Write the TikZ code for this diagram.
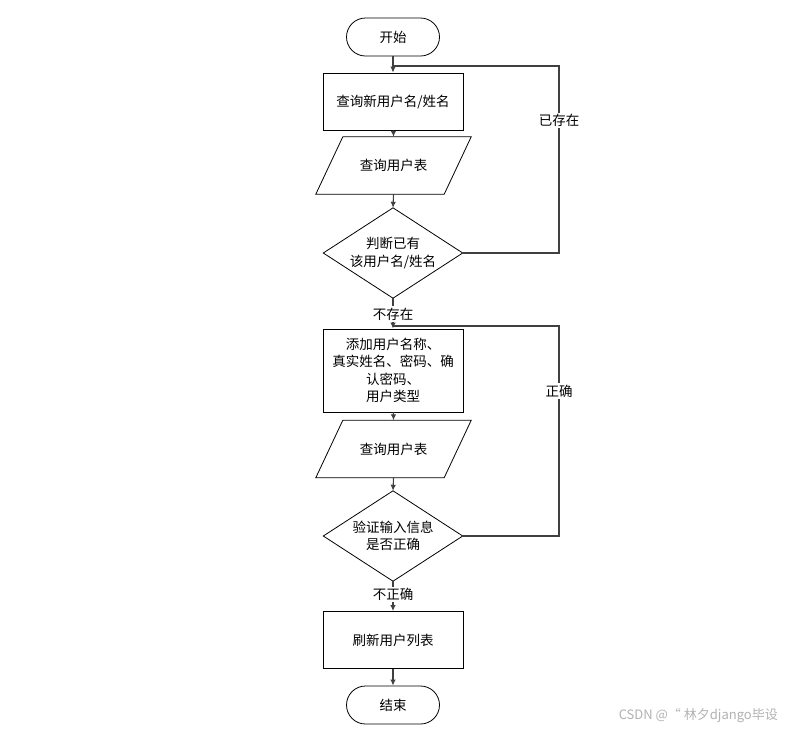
\documentclass[tikz,border=0pt]{standalone}
\usepackage{fontspec}
\setmainfont{Noto Sans CJK SC}
\usetikzlibrary{arrows.meta,positioning}
\tikzset{
  base/.style={font=\fontsize{13.5pt}{17.5pt}\selectfont, align=center, inner sep=0pt},
  term/.style={base, draw=black, line width=0.8pt, rounded corners=19pt, minimum width=93pt, minimum height=38pt},
  proc/.style={base, draw=black, line width=0.8pt, minimum width=140pt, minimum height=57pt},
  io/.style={base, minimum width=128pt, minimum height=57pt},
  dec/.style={base, minimum width=139pt, minimum height=90pt},
  shapeline/.style={draw=black, line width=0.8pt},
  conn/.style={draw=black!75, line width=1.1pt, -{Latex[length=6pt,width=5.5pt]}},
  loopline/.style={draw=black!75, line width=1.1pt},
  lbl/.style={font=\fontsize{13.5pt}{16pt}\selectfont, fill=white, inner sep=1.5pt},
  wm/.style={font=\fontsize{13pt}{16pt}\selectfont, text=black!30, inner sep=0pt}
}
\begin{document}
\begin{tikzpicture}[x=1pt,y=-1pt]
\useasboundingbox (0,0) rectangle (787,729);
\fill[white] (0,0) rectangle (787,729);

\node[term] (start) at (393,37) {开始};
\node[proc] (q1) at (393,101.5) {查询新用户名/姓名};
\node[io] (p1) at (393.5,165.5) {查询用户表};
\node[dec] (d1) at (393,253) {判断已有\\该用户名/姓名};
\node[proc, minimum height=83pt] (add) at (393,370.5) {添加用户名称、\\真实姓名、密码、确\\认密码、\\用户类型};
\node[io] (p2) at (393.5,449) {查询用户表};
\node[dec] (d2) at (393,536) {验证输入信息\\是否正确};
\node[proc] (ref) at (393,640) {刷新用户列表};
\node[term] (end) at (393,705) {结束};

% parallelograms
\foreach \p in {p1,p2}{
  \draw[shapeline] ([xshift=13.5pt]\p.north west) -- ([xshift=13.5pt]\p.north east)
    -- ([xshift=-13.5pt]\p.south east) -- ([xshift=-13.5pt]\p.south west) -- cycle;
}
% diamonds
\foreach \d in {d1,d2}{
  \draw[shapeline] (\d.north) -- (\d.east) -- (\d.south) -- (\d.west) -- cycle;
}

\coordinate (j1) at (393,66);
\coordinate (c1) at (559,66);
\coordinate (j2) at (393,326);
\coordinate (c2) at (559,326);

% loops (drawn first so the arrows lie on top)
\draw[loopline] (d1.east) -- (c1 |- d1.east) -- node[lbl, pos=0.71] (l1) {已存在} (c1) -- (j1);
\draw[loopline] (d2.east) -- (c2 |- d2.east) -- node[lbl, pos=0.69] (l2) {正确} (c2) -- (j2);

% main flow
\draw[conn] (start) -- (q1);
\draw[conn] (q1) -- (p1.north);
\draw[conn] (p1.south) -- (d1.north);
\draw[conn] (d1.south) -- node[lbl, pos=0.52] (l3) {不存在} (add);
\draw[conn] (add) -- (p2.north);
\draw[conn] (p2.south) -- (d2.north);
\draw[conn] (d2.south) -- node[lbl, pos=0.45] (l4) {不正确} (ref);
\draw[conn] (ref) -- (end);

\node[wm, anchor=east] (wmk) at (778,716) {CSDN @“ 林夕django毕设};
\end{tikzpicture}
\end{document}
